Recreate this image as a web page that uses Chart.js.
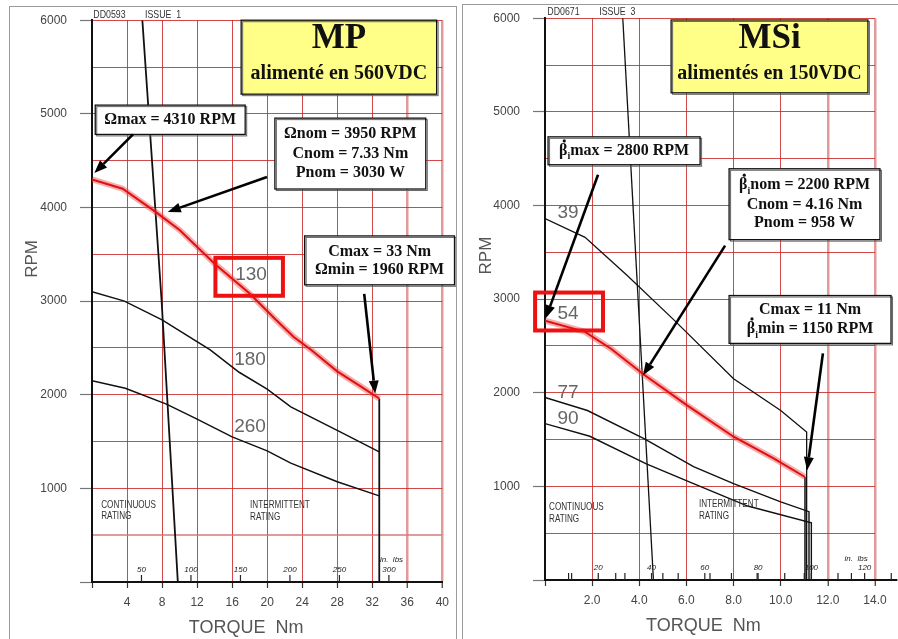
<!DOCTYPE html>
<html>
<head>
<meta charset="utf-8">
<script src="https://cdn.jsdelivr.net/npm/chart.js@4.4.1/dist/chart.umd.min.js"></script>
<style>
body { margin: 0; background: #fff; width: 898px; height: 639px; overflow: hidden; position: relative; }
.panel { position: absolute; border: 1px solid #9a9a9a; box-sizing: border-box; }
canvas { position: absolute; }
</style>
</head>
<body>
<div class="panel" style="left:9px;top:6px;width:448px;height:650px"></div>
<div class="panel" style="left:462px;top:4px;width:450px;height:650px"></div>
<canvas id="mp" width="446" height="639" style="left:10px;top:0px"></canvas>
<canvas id="msi" width="435" height="641" style="left:463px;top:-2px"></canvas>
<script>
// MP, 560VDC (torque Nm / speed RPM)
const mpTorque130 = [0, 3.5, 7.3, 10, 14, 18, 21, 23, 25, 28, 30.5, 32.8];
const mpRpm130    = [4300, 4200, 3950, 3760, 3400, 3080, 2800, 2620, 2480, 2250, 2100, 1960];
const mpTorque180 = [0, 3.7, 8, 13.5, 16.8, 20, 22.7, 28, 32.8];
const mpRpm180    = [3100, 3000, 2800, 2480, 2240, 2060, 1870, 1620, 1390];
const mpTorque260 = [0, 3.8, 8.5, 12, 16, 20, 22.7, 28, 32.8];
const mpRpm260    = [2150, 2070, 1900, 1740, 1550, 1400, 1270, 1070, 920];
const mpTorqueCont = [5.75, 7.95, 9.8];
const mpRpmCont    = [6000, 3000, 0];
const mpTorqueLimit = [32.8, 32.8];
const mpRpmLimit    = [1960, 0];
const mpInLbs = [50, 100, 150, 200, 250, 300];

// MSi, 150VDC
const msiTorque54 = [0, 1.7, 2.8, 4.16, 6, 8, 9.7, 11.03];
const msiRpm54    = [2770, 2650, 2470, 2200, 1870, 1530, 1300, 1100];
const msiTorque39 = [0, 1.7, 3.5, 5.5, 8, 10, 11.1, 11.1];
const msiRpm39    = [3860, 3660, 3250, 2770, 2150, 1810, 1580, 0];
const msiTorque77 = [0, 1.8, 4.2, 6.3, 8, 10, 11.2, 11.2];
const msiRpm77    = [1950, 1810, 1510, 1210, 1030, 835, 730, 0];
const msiTorque90 = [0, 1.9, 4.3, 6.3, 8.6, 11.3, 11.3];
const msiRpm90    = [1670, 1535, 1240, 1030, 790, 610, 0];
const msiTorqueCont = [3.3, 4.6];
const msiRpmCont    = [6000, 0];
const msiTorqueLimit = [11.03, 11.03];
const msiRpmLimit    = [1100, 0];
const msiInLbs = [20, 40, 60, 80, 100, 120];
const msiInLbsTicks = [10, 20, 30, 40, 50, 60, 70, 80, 90, 100, 110, 120, 130];
const msiMinorNm = [1, 3, 5, 7, 9, 11, 13];

const NM_PER_INLB = 0.113;
const SERIF = '"Liberation Serif", serif';
const SANS = '"Liberation Sans", Arial, sans-serif';

const pts = (xs, ys) => xs.map((x, i) => ({ x: x, y: ys[i] }));
const line = (xs, ys, color, w) => ({
  data: pts(xs, ys), borderColor: color, borderWidth: w, showLine: true,
  pointRadius: 0, tension: 0
});

function cadText(ctx, text, x, y, size, sx) {
  ctx.save();
  ctx.translate(x, y);
  ctx.scale(sx, 1);
  ctx.font = size + 'px ' + SANS;
  ctx.textAlign = 'left';
  ctx.textBaseline = 'middle';
  ctx.fillText(text, 0, 0);
  ctx.restore();
}

function richText(ctx, segs, cx, cy, size) {
  const big = 'bold ' + size + 'px ' + SERIF;
  const small = 'bold ' + Math.round(size * 0.62) + 'px ' + SERIF;
  let total = 0;
  const widths = segs.map(s => {
    ctx.font = s[1] === 'sub' ? small : big;
    const w = ctx.measureText(s[0]).width;
    total += w;
    return w;
  });
  let x = cx - total / 2;
  ctx.textAlign = 'left';
  ctx.textBaseline = 'middle';
  segs.forEach((s, i) => {
    ctx.font = s[1] === 'sub' ? small : big;
    ctx.fillText(s[0], x, s[1] === 'sub' ? cy + size * 0.38 : cy);
    if (s[1] === 'dot') {
      ctx.beginPath();
      ctx.arc(x + widths[i] / 2 + 1, cy - size * 0.62, size * 0.1, 0, Math.PI * 2);
      ctx.fill();
    }
    x += widths[i];
  });
}

function arrow(ctx, x0, y0, x1, y1) {
  const a = Math.atan2(y1 - y0, x1 - x0), L = 13, W = 5;
  const bx = x1 - L * Math.cos(a), by = y1 - L * Math.sin(a);
  ctx.beginPath(); ctx.moveTo(x0, y0); ctx.lineTo(bx, by); ctx.stroke();
  ctx.beginPath();
  ctx.moveTo(x1, y1);
  ctx.lineTo(bx + W * Math.sin(a), by - W * Math.cos(a));
  ctx.lineTo(bx - W * Math.sin(a), by + W * Math.cos(a));
  ctx.closePath(); ctx.fill();
}

const notesPlugin = {
  id: 'notes',
  afterDraw(chart, args, o) {
    const ctx = chart.ctx, area = chart.chartArea;
    const X = v => chart.scales.x.getPixelForValue(v);
    const Y = v => chart.scales.y.getPixelForValue(v);
    const base = Y(0);
    ctx.save();
    ctx.strokeStyle = '#111'; ctx.fillStyle = '#111';

    if (o.axisEnd) {
      ctx.lineWidth = 2;
      ctx.beginPath(); ctx.moveTo(area.right, base); ctx.lineTo(X(o.axisEnd), base); ctx.stroke();
    }
    // small ticks on the torque axis (Nm minor + in. lbs)
    ctx.lineWidth = 1.2; ctx.strokeStyle = '#222';
    const tick = p => { ctx.beginPath(); ctx.moveTo(p, base); ctx.lineTo(p, base - 7); ctx.stroke(); };
    o.minor.forEach(v => tick(X(v)));
    o.inLbsTicks.forEach(v => tick(X(v * NM_PER_INLB)));
    ctx.fillStyle = '#222';
    ctx.font = 'italic 8px ' + SANS; ctx.textAlign = 'center'; ctx.textBaseline = 'middle';
    o.inLbs.forEach(v => ctx.fillText(String(v), X(v * NM_PER_INLB), base - 12));
    ctx.fillText('in.  lbs', X(o.inLbsTitle[0]), Y(o.inLbsTitle[1]));

    // drawing header and rating notes
    ctx.fillStyle = '#333';
    o.header.forEach(h => cadText(ctx, h[0], X(h[1]), area.top + o.headerDy, 11, 0.8));
    o.rating.forEach(r => cadText(ctx, r[2], X(r[0]), Y(r[1]), 11, 0.74));

    // axis titles
    ctx.fillStyle = '#555';
    ctx.font = '18px ' + SANS; ctx.textAlign = 'center'; ctx.textBaseline = 'middle';
    ctx.fillText('TORQUE  Nm', X(o.torqueTitle), base + 46);
    ctx.save();
    ctx.translate(o.rpmTitle[0], Y(o.rpmTitle[1]));
    ctx.rotate(-Math.PI / 2);
    ctx.font = '17px ' + SANS;
    ctx.fillText('RPM', 0, 0);
    ctx.restore();

    // curve names
    ctx.fillStyle = '#666';
    ctx.font = '19px ' + SANS;
    o.curveLabels.forEach(c => ctx.fillText(c[0], X(c[1]), Y(c[2])));

    // red highlight
    ctx.strokeStyle = '#ee1111'; ctx.lineWidth = 4;
    o.marks.forEach(m => ctx.strokeRect(X(m[0]), Y(m[1]), X(m[2]) - X(m[0]), Y(m[3]) - Y(m[1])));

    // boxes
    o.boxes.forEach(b => {
      const x0 = X(b.x0), y0 = Y(b.y0), w = X(b.x1) - x0, h = Y(b.y1) - y0;
      ctx.fillStyle = b.bg;
      ctx.fillRect(x0, y0, w, h);
      ctx.strokeStyle = '#666'; ctx.lineWidth = 1;
      ctx.strokeRect(x0 + 1.5, y0 + 1.5, w, h);
      ctx.strokeStyle = '#111'; ctx.lineWidth = 1.3;
      ctx.strokeRect(x0, y0, w, h);
      ctx.fillStyle = '#111';
      b.lines.forEach(l => richText(ctx, l[2], x0 + w / 2, y0 + l[0], l[1]));
    });

    // arrows
    ctx.strokeStyle = '#000'; ctx.fillStyle = '#000'; ctx.lineWidth = 2.6;
    o.arrows.forEach(a => arrow(ctx, X(a[0]), Y(a[1]), X(a[2]), Y(a[3])));
    ctx.restore();
  }
};

function scales(opt) {
  return {
    x: {
      type: 'linear', min: 0, max: opt.xMax,
      afterFit: s => { s.height = opt.xHeight; },
      border: { color: '#111', width: 2 },
      grid: {
        color: c => c.tick.value === 0 ? 'rgba(0,0,0,0)' :
          opt.pinkX.includes(c.tick.value) ? 'rgba(215,120,120,0.75)' : 'rgba(200,40,40,0.85)',
        lineWidth: c => opt.pinkX.includes(c.tick.value) ? 2.5 : 1,
        tickColor: '#333', tickWidth: 1.2, tickLength: 6
      },
      ticks: {
        stepSize: opt.xStep, autoSkip: false, maxRotation: 0, padding: 7,
        color: '#444', font: { family: SANS, size: 12 },
        callback: v => v === 0 ? '' : opt.xLabel(v)
      }
    },
    y: {
      min: 0, max: 6000,
      afterFit: s => { s.width = 82; },
      border: { color: '#111', width: 2 },
      grid: {
        color: c => opt.pinkY.includes(c.tick.value) ? 'rgba(215,120,120,0.75)' : 'rgba(200,40,40,0.85)',
        lineWidth: c => opt.pinkY.includes(c.tick.value) ? 2 : 1,
        tickColor: c => c.tick.value % 1000 === 0 ? '#777' : 'rgba(0,0,0,0)',
        tickWidth: 1.2, tickLength: 12
      },
      ticks: {
        stepSize: 500, autoSkip: false, padding: 13,
        color: '#444', font: { family: SANS, size: 12 },
        callback: v => (v % 1000 === 0 && v > 0) ? String(v) : ''
      }
    }
  };
}

function makeChart(id, datasets, sc, padRight, notes) {
  return new Chart(document.getElementById(id), {
    type: 'scatter',
    data: { datasets: datasets },
    options: {
      responsive: false, animation: false, devicePixelRatio: 1,
      layout: { padding: { top: 0, right: padRight, left: 0, bottom: 0 } },
      scales: sc,
      plugins: { legend: { display: false }, tooltip: { enabled: false }, notes: notes }
    },
    plugins: [notesPlugin]
  });
}

const WHITE = '#ffffff', YELLOW = '#ffff88';

const mpChart = makeChart('mp', [
  line(mpTorque130, mpRpm130, '#e01010', 2),
  line(mpTorque130, mpRpm130, 'rgba(235,70,70,0.45)', 6),
  line(mpTorqueCont, mpRpmCont, '#111', 1.8),
  line(mpTorqueLimit, mpRpmLimit, '#111', 1.8),
  line(mpTorque180, mpRpm180, '#111', 1.5),
  line(mpTorque260, mpRpm260, '#111', 1.5)
], scales({ xMax: 40, xStep: 4, xHeight: 57, pinkX: [36, 40], pinkY: [500], xLabel: v => String(v) }), 11, {
  header: [['DD0593', 0.15], ['ISSUE  1', 6.05]], headerDy: -5,
  minor: [], inLbsTicks: mpInLbs, inLbs: mpInLbs, inLbsTitle: [34.2, 242], axisEnd: null,
  rpmTitle: [22, 3450], torqueTitle: 17.6,
  rating: [[1.05, 828, 'CONTINUOUS'], [1.05, 700, 'RATING'], [18.05, 818, 'INTERMITTENT'], [18.05, 690, 'RATING']],
  curveLabels: [['130', 18.16, 3280], ['180', 18.05, 2374], ['260', 18.05, 1660]],
  marks: [[14.09, 3462, 21.8, 3057]],
  boxes: [
    { x0: 17.03, y0: 6000, x1: 39.35, y1: 5210, bg: YELLOW,
      lines: [[19, 35, [['MP']]], [54, 20, [['alimenté en 560VDC']]]] },
    { x0: 0.37, y0: 5093, x1: 17.49, y1: 4780, bg: WHITE, lines: [[14.5, 16, [['Ωmax = 4310 RPM']]]] },
    { x0: 20.88, y0: 4954, x1: 38.11, y1: 4197, bg: WHITE,
      lines: [[16, 16, [['Ωnom = 3950 RPM']]], [35.5, 16, [['Cnom = 7.33 Nm']]], [54.5, 16, [['Pnom = 3030 W']]]] },
    { x0: 24.28, y0: 3696, x1: 41.39, y1: 3174, bg: WHITE,
      lines: [[15.7, 16, [['Cmax = 33 Nm']]], [34.3, 16, [['Ωmin = 1960 RPM']]]] }
  ],
  arrows: [[4.68, 4780, 0.27, 4367], [19.98, 4325, 8.65, 3952], [31.08, 3078, 32.33, 2012]]
});

const msiChart = makeChart('msi', [
  line(msiTorque54, msiRpm54, '#e01010', 2),
  line(msiTorque54, msiRpm54, 'rgba(235,70,70,0.45)', 6),
  line(msiTorqueCont, msiRpmCont, '#111', 1.3),
  line(msiTorqueLimit, msiRpmLimit, '#111', 1.5),
  line(msiTorque39, msiRpm39, '#111', 1.3),
  line(msiTorque77, msiRpm77, '#111', 1.4),
  line(msiTorque90, msiRpm90, '#111', 1.4)
], scales({ xMax: 14, xStep: 2, xHeight: 59, pinkX: [12, 14], pinkY: [], xLabel: v => v.toFixed(1) }), 23, {
  header: [['DD0671', 0.1], ['ISSUE  3', 2.3]], headerDy: -6,
  minor: msiMinorNm, inLbsTicks: msiInLbsTicks, inLbs: msiInLbs, inLbsTitle: [13.2, 224], axisEnd: 14.95,
  rpmTitle: [23, 3465], torqueTitle: 6.72,
  rating: [[0.17, 778, 'CONTINUOUS'], [0.17, 650, 'RATING'], [6.53, 810, 'INTERMITTENT'], [6.53, 682, 'RATING']],
  curveLabels: [['39', 0.98, 3923], ['54', 0.98, 2846], ['77', 0.98, 2004], ['90', 0.98, 1727]],
  marks: [[-0.42, 3070, 2.46, 2665]],
  boxes: [
    { x0: 5.35, y0: 5981, x1: 13.7, y1: 5203, bg: YELLOW,
      lines: [[19.3, 35, [['MSi']]], [54.3, 20, [['alimentés en 150VDC']]]] },
    { x0: 0.13, y0: 4733, x1: 6.58, y1: 4435, bg: WHITE,
      lines: [[14, 16, [['β', 'dot'], ['i', 'sub'], ['max = 2800 RPM']]]] },
    { x0: 7.81, y0: 4392, x1: 14.21, y1: 3635, bg: WHITE,
      lines: [[16.3, 16, [['β', 'dot'], ['i', 'sub'], ['nom = 2200 RPM']]], [35.7, 16, [['Cnom = 4.16 Nm']]], [54.3, 16, [['Pnom = 958 W']]]] },
    { x0: 7.81, y0: 3038, x1: 14.68, y1: 2527, bg: WHITE,
      lines: [[14.3, 16, [['Cmax = 11 Nm']]], [33.3, 16, [['β', 'dot'], ['i', 'sub'], ['min = 1150 RPM']]]] }
  ],
  arrows: [[2.25, 4328, 0.03, 2795], [7.64, 3571, 4.16, 2186], [11.79, 2420, 11.12, 1173]]
});
</script>
</body>
</html>
